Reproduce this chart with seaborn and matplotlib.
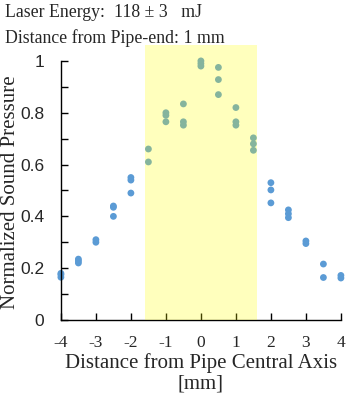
"""Normalized sound pressure across the pipe cross-section."""

import matplotlib.pyplot as plt
import numpy as np
import pandas as pd
import seaborn as sns

plt.switch_backend("Agg")

# measured positions (mm) and the normalized pressure readings at each
distance_mm = [
    -4, -4, -4,
    -3.5, -3.5, -3.5,
    -3, -3,
    -2.5, -2.5, -2.5,
    -2, -2, -2,
    -1.5, -1.5,
    -1, -1, -1,
    -0.5, -0.5, -0.5,
    0, 0, 0,
    0.5, 0.5, 0.5,
    1, 1, 1,
    1.5, 1.5, 1.5,
    2, 2, 2,
    2.5, 2.5, 2.5,
    3, 3,
    3.5, 3.5,
    4, 4,
]
pressure = [
    0.165, 0.175, 0.18,
    0.22, 0.228, 0.235,
    0.30, 0.31,
    0.44, 0.435, 0.40,
    0.55, 0.54, 0.49,
    0.66, 0.61,
    0.80, 0.79, 0.765,
    0.834, 0.765, 0.752,
    1.0, 0.99, 0.98,
    0.975, 0.928, 0.87,
    0.82, 0.765, 0.752,
    0.703, 0.68, 0.655,
    0.53, 0.502, 0.452,
    0.425, 0.41, 0.395,
    0.305, 0.295,
    0.216, 0.164,
    0.172, 0.162,
]
pipe_half_width = 1.6

x_ticks = [-4, -3, -2, -1, 0, 1, 2, 3, 4]
y_ticks = [0, 0.2, 0.4, 0.6, 0.8, 1]
y_tick_labels = ["0", "0.2", "0.4", "0.6", "0.8", "1"]

data = pd.DataFrame({"distance": distance_mm, "pressure": pressure})

sns.set_theme(style="ticks")
plt.rcParams["font.family"] = ["Liberation Serif", "DejaVu Serif"]

fig = plt.figure(figsize=(3.5, 3.98), dpi=100)
ax = fig.add_axes([0.174, 0.196, 0.80, 0.69])

sns.scatterplot(
    data=data,
    x="distance",
    y="pressure",
    color="#5b9bd5",
    s=24,
    edgecolor="none",
    clip_on=False,
    zorder=2,
    ax=ax,
)
ax.axvspan(-pipe_half_width, pipe_half_width, color="#ffff00", alpha=0.26,
           lw=0, zorder=3)

ax.set_xlim(-4, 4)
ax.set_ylim(0, 1.06)
ax.set_xticks(x_ticks)
ax.set_xticklabels([str(t) for t in x_ticks], fontsize=12.5)
ax.set_yticks(y_ticks)
ax.set_yticks(np.arange(0.1, 1.0, 0.2), minor=True)
ax.set_yticklabels(y_tick_labels, fontsize=12.5, family="Liberation Sans")
ax.tick_params(axis="both", which="both", direction="in", length=5,
               width=1, color="black")
ax.tick_params(axis="x", pad=11)
ax.tick_params(axis="y", pad=12)
for side in ("top", "right"):
    ax.spines[side].set_visible(False)
ax.spines["left"].set_bounds(0, 1)
ax.spines["bottom"].set_bounds(-4, 4)
for side in ("left", "bottom"):
    ax.spines[side].set_color("black")
    ax.spines[side].set_linewidth(1)

ax.set_xlabel("Distance from Pipe Central Axis\n[mm]", fontsize=15,
              linespacing=1.12, labelpad=1)
ax.set_ylabel("Normalized Sound Pressure", fontsize=15)
ax.yaxis.set_label_coords(-0.146, 0.465)

fig.text(0.014, 0.99, "Laser Energy:  118 ± 3   mJ", fontsize=12.8, va="top")
fig.text(0.014, 0.928, "Distance from Pipe-end: 1 mm", fontsize=12.8, va="top")

fig.savefig("out.png", dpi=100)
plt.close(fig)
